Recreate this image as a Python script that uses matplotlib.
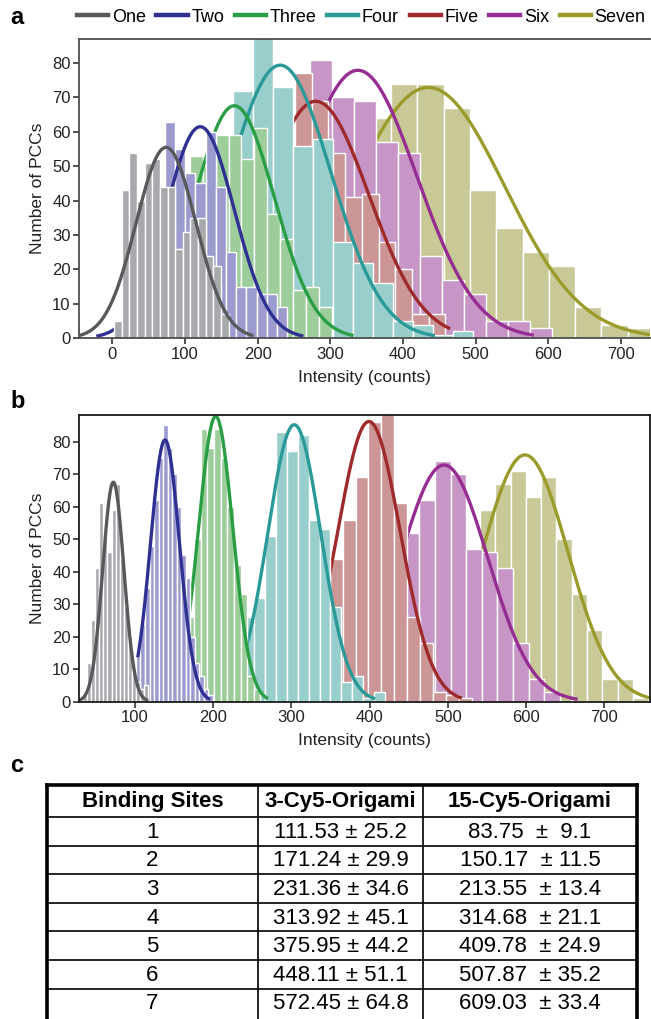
import numpy as np
import matplotlib
matplotlib.use("Agg")
import matplotlib.pyplot as plt
from matplotlib.lines import Line2D

plt.rcParams["font.family"] = ["Liberation Sans", "DejaVu Sans"]

names = ["One", "Two", "Three", "Four", "Five", "Six", "Seven"]
line_colors = ["#58595b", "#2e3192", "#2a9e45", "#2a9a98", "#9e2a2b", "#952d92", "#9b9b2c"]
bar_colors = ["#a7a9ac", "#9b9bcf", "#9ccd9a", "#98cecb", "#cb9695", "#c796c7", "#c9c997"]

# ---- panel a: 3-Cy5-Origami histograms (first bin edge, bin width, counts)
a_start = [2.5, 2.5, 89.3, 84.1, 159.5, 182.0, 202.6]
a_width = [10.5, 14.0, 17.7, 27.5, 23.0, 30.25, 36.2]
a_counts = [
    [5, 43, 54, 40, 51, 52, 44, 44, 26, 31, 35, 35, 24, 21, 7],
    [2, 6, 14, 24, 34, 63, 55, 48, 45, 60, 44, 25, 15, 15, 13, 13, 9],
    [30, 53, 50, 59, 59, 52, 61, 36, 29, 14, 15, 9],
    [6, 25, 30, 72, 90, 73, 56, 58, 28, 22, 16, 5, 4, 1, 2],
    [3, 10, 25, 45, 77, 69, 54, 41, 42, 28, 20, 7, 7],
    [5, 20, 40, 81, 70, 69, 57, 54, 24, 17, 13, 5, 5, 3],
    [3, 12, 30, 50, 64, 74, 74, 67, 43, 32, 25, 21, 9, 4, 3],
]
# gaussian fits: centre, sigma, peak height, drawn range
a_mu = [74, 121, 168, 231, 280, 338, 435]
a_sigma = [41, 47, 55, 70, 73, 81, 105]
a_peak = [55.5, 61.5, 67.6, 79.4, 68.9, 77.9, 72.9]
a_lo = [-45, -22, 60, 120, 160, 200, 250]
a_hi = [194, 263, 332, 444, 465, 580, 742]

# ---- panel b: 15-Cy5-Origami histograms
b_start = [33.6, 101.2, 150, 224, 316, 403.5, 463]
b_width = [5.2, 5.8, 8.5, 14, 16.5, 20, 19.55]
b_counts = [
    [3, 12, 25, 41, 61, 50, 46, 59, 67, 44, 29, 20, 10, 6, 4, 5],
    [14, 24, 35, 48, 62, 75, 85, 78, 70, 60, 45, 38, 20, 12, 8, 4, 2],
    [4, 12, 26, 50, 84, 78, 84, 75, 60, 42, 33, 8, 4],
    [5, 26, 32, 51, 83, 77, 82, 56, 53, 29, 6, 8, 1, 3],
    [4, 20, 44, 56, 69, 86, 92, 61, 26, 18, 3, 2, 1],
    [5, 20, 52, 62, 74, 70, 47, 46, 41, 18, 7, 3],
    [2, 8, 25, 45, 59, 67, 71, 63, 69, 50, 33, 22, 7, 7, 1],
]
b_mu = [72.3, 138.4, 203.2, 303.7, 399.2, 495.2, 598.7]
b_sigma = [13.5, 18.5, 22, 34, 40, 56, 55]
b_peak = [67.5, 80.5, 87.8, 85.2, 86.2, 72.8, 75.9]
b_lo = [28, 103.5, 160, 238, 316, 440, 463]
b_hi = [117, 196, 270, 407, 518, 666, 759]

# ---- panel c: fitted intensities
table_header = ["Binding Sites", "3-Cy5-Origami", "15-Cy5-Origami"]
sites = ["1", "2", "3", "4", "5", "6", "7"]
cy5_3 = ["111.53 ± 25.2", "171.24 ± 29.9", "231.36 ± 34.6", "313.92 ± 45.1",
         "375.95 ± 44.2", "448.11 ± 51.1", "572.45 ± 64.8"]
cy5_15 = ["83.75  ±  9.1", "150.17  ± 11.5", "213.55  ± 13.4", "314.68  ± 21.1",
          "409.78  ± 24.9", "507.87  ± 35.2", "609.03  ± 33.4"]

W, H = 651, 1019
fig = plt.figure(figsize=(W / 100, H / 100), dpi=100)


def px_axes(left, top, right, bottom):
    return fig.add_axes([left / W, 1 - bottom / H, (right - left) / W, (bottom - top) / H])


def draw_hists(ax, starts, widths, counts, mu, sigma, peak, lo, hi):
    # series One sits in front, Seven at the back; each fit line over its own bars
    for i in range(len(names)):
        z = 20 - 2 * i
        c = np.array(counts[i], dtype=float)
        edges = starts[i] + widths[i] * np.arange(len(c))
        ax.bar(edges, c, width=widths[i], align="edge", color=bar_colors[i],
               edgecolor="white", linewidth=1.0, zorder=z)
        x = np.linspace(lo[i], hi[i], 400)
        y = peak[i] * np.exp(-(x - mu[i]) ** 2 / (2 * sigma[i] ** 2))
        ax.plot(x, y, color=line_colors[i], lw=2.4, zorder=z + 1,
                solid_capstyle="butt")


def style_axes(ax, spine_color):
    for s in ax.spines.values():
        s.set_color(spine_color)
        s.set_linewidth(1.3)
        s.set_zorder(30)
    ax.tick_params(axis="both", labelsize=12, colors="#222222", length=4,
                   width=1.1, direction="out", pad=2)
    ax.set_xlabel("Intensity (counts)", fontsize=12.5, color="#222222", labelpad=6)
    ax.set_ylabel("Number of PCCs", fontsize=12.5, color="#222222", labelpad=5)


# panel a
ax_a = px_axes(79, 39, 650, 338.3)
draw_hists(ax_a, a_start, a_width, a_counts, a_mu, a_sigma, a_peak, a_lo, a_hi)
ax_a.set_xlim(-45.8, 740)
ax_a.set_ylim(0, 87)
ax_a.set_xticks(range(0, 701, 100))
ax_a.set_yticks(range(0, 81, 10))
style_axes(ax_a, "#4d4d4d")
ax_a.spines["right"].set_visible(False)

# panel b
ax_b = px_axes(79, 415, 650, 701.5)
draw_hists(ax_b, b_start, b_width, b_counts, b_mu, b_sigma, b_peak, b_lo, b_hi)
ax_b.set_xlim(28.4, 758.6)
ax_b.set_ylim(0, 88.2)
ax_b.set_xticks(range(100, 701, 100))
ax_b.set_yticks(range(0, 81, 10))
style_axes(ax_b, "#1a1a1a")

# legend across the top
handles = [Line2D([], [], color=c, lw=3.2) for c in line_colors]
fig.legend(handles, names, loc="center", bbox_to_anchor=(0.555, 1 - 17 / H), ncol=7,
           frameon=False, fontsize=13, handlelength=1.72, handletextpad=0.2,
           columnspacing=0.6, borderaxespad=0, borderpad=0)

# panel letters
for lab, yy in [("a", 18), ("b", 402), ("c", 766)]:
    fig.text(10 / W, 1 - yy / H, lab, fontsize=17, fontweight="bold", va="center",
             ha="left")

# table
ax_t = fig.add_axes([0, 0, 1, 1], zorder=-1)
ax_t.set_xlim(0, W)
ax_t.set_ylim(H, 0)
ax_t.axis("off")
col_x = [47, 258, 423, 637]
row_y = [785, 817] + [817 + 28.6 * (k + 1) for k in range(len(sites))]
col_mid = [(col_x[k] + col_x[k + 1]) / 2 for k in range(3)]
ax_t.plot([col_x[0], col_x[-1]], [row_y[0], row_y[0]], color="black", lw=2.6,
          solid_capstyle="projecting")
for yy in row_y[1:-1]:
    ax_t.plot([col_x[0], col_x[-1]], [yy, yy], color="black", lw=1.2)
for k, xx in enumerate(col_x):
    lw = 2.6 if k in (0, 3) else 1.2
    ax_t.plot([xx, xx], [row_y[0], H + 5], color="black", lw=lw)
for k, txt in enumerate(table_header):
    ax_t.text(col_mid[k], (row_y[0] + row_y[1]) / 2 + 1, txt, ha="center",
              va="center", fontsize=16, fontweight="bold")
for r in range(len(sites)):
    yc = (row_y[r + 1] + row_y[r + 2]) / 2 + 1
    for k, txt in enumerate([sites[r], cy5_3[r], cy5_15[r]]):
        ax_t.text(col_mid[k], yc, txt, ha="center", va="center", fontsize=16)

fig.savefig("out.png", dpi=100)
